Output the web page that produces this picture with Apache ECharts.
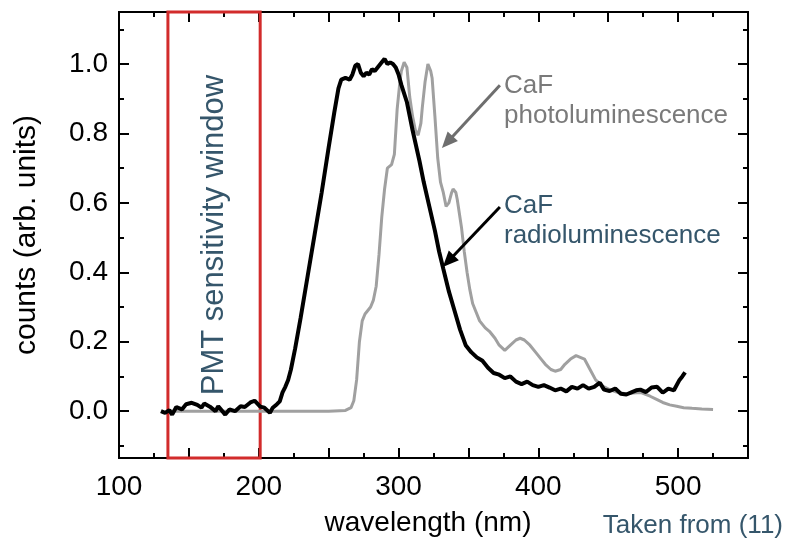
<!DOCTYPE html>
<html>
<head>
<meta charset="utf-8">
<script src="https://cdn.jsdelivr.net/npm/echarts@6/dist/echarts.min.js"></script>
<style>
  html, body { margin: 0; padding: 0; background: #ffffff; }
  #chart { width: 786px; height: 542px; }
</style>
</head>
<body>
<div id="chart"></div>
<script>
// CaF radioluminescence spectrum (black)
const radioWavelength = [130,133,136,138,141,145,148,152,156,159,161,165,169,171,176,179,183,187,190,194,197,201,204,208,210,213,215,217,219,221,223,226,230,235,240,245,250,254,257,259,262,265,267,269,271,273,275,277,279,281,283,285,287,290,292,294,296,298,300,302,306,310,315,318,322,326,329,332,336,340,344,348,352,356,360,364,368,372,376,380,384,388,392,396,400,404,408,412,416,420,424,428,432,436,440,444,447,451,455,459,463,467,470,473,477,481,485,489,493,497,501,503,505];
const radioCounts = [0.0,-0.005,0.003,-0.01,0.012,0.005,0.02,0.024,0.018,0.01,0.022,0.013,0.0,0.014,-0.01,0.005,0.0,0.014,0.012,0.025,0.03,0.013,0.01,-0.005,0.01,0.02,0.028,0.054,0.07,0.09,0.12,0.18,0.27,0.39,0.51,0.63,0.76,0.86,0.93,0.955,0.96,0.955,0.97,0.995,1.0,0.975,0.965,0.975,0.97,0.985,0.98,0.99,1.0,1.015,1.0,1.005,1.0,0.99,0.97,0.94,0.89,0.81,0.72,0.66,0.59,0.52,0.46,0.41,0.345,0.29,0.235,0.19,0.17,0.155,0.145,0.125,0.11,0.105,0.095,0.1,0.085,0.078,0.085,0.075,0.07,0.075,0.068,0.06,0.065,0.057,0.07,0.065,0.075,0.065,0.07,0.082,0.062,0.058,0.065,0.05,0.048,0.055,0.06,0.062,0.055,0.068,0.07,0.053,0.065,0.06,0.09,0.1,0.112];

// CaF photoluminescence spectrum (grey)
const photoWavelength = [135,200,250,262,266,268,270,272,274,276,278,280,282,284,286,288,290,292,295,297,299,301,302,304,306,308,310,312,314,316,317,319,321,323,324,326,328,330,332,334,336,338,339,341,342,345,347,349,351,353,355,358,362,365,369,372,376,380,384,387,390,394,398,402,405,409,412,416,419,423,427,430,433,437,441,446,451,456,462,468,473,480,485,489,494,499,504,510,517,525];
const photoCounts = [0.0,0.0,0.0,0.002,0.01,0.03,0.09,0.2,0.26,0.28,0.29,0.3,0.32,0.36,0.45,0.56,0.64,0.7,0.71,0.74,0.87,0.95,0.98,1.005,0.99,0.905,0.85,0.81,0.795,0.83,0.875,0.95,1.0,0.98,0.96,0.85,0.73,0.66,0.63,0.59,0.6,0.63,0.64,0.63,0.61,0.53,0.46,0.4,0.35,0.31,0.29,0.26,0.24,0.23,0.21,0.19,0.175,0.19,0.205,0.21,0.205,0.19,0.17,0.15,0.135,0.12,0.115,0.12,0.135,0.15,0.16,0.155,0.15,0.12,0.09,0.072,0.062,0.055,0.05,0.052,0.054,0.043,0.033,0.025,0.018,0.014,0.01,0.008,0.006,0.005];

// Axis ticks and labels
const xLabelValues = [100, 200, 300, 400, 500];
const yLabelValues = [0.0, 0.2, 0.4, 0.6, 0.8, 1.0];
const yMinorValues = [-0.1, 0.1, 0.3, 0.5, 0.7, 0.9, 1.1];

// PMT sensitivity window (nm)
const pmtWindow = [135, 201];

// Annotation arrows: [start, end] in (nm, counts)
const photoArrow = [[372.5, 0.939], [334.9, 0.775]];
const radioArrow = [[372.5, 0.588], [335.6, 0.432]];

const FONT = '"Liberation Sans", Arial, sans-serif';
const SLATE = '#35566b';
const X_MIN = 100, X_MAX = 550;
const Y_MIN = -0.135, Y_MAX = 1.15;

const zip = (xs, ys) => xs.map((x, i) => [x, ys[i]]);

const axisLineStyle = { show: true, onZero: false, lineStyle: { color: '#000', width: 2 } };
const tickStyle = { color: '#000', width: 2 };

function makeX(position, withLabels) {
  return {
    type: 'value', position, min: X_MIN, max: X_MAX, interval: 50,
    axisLine: axisLineStyle,
    splitLine: { show: false },
    axisTick: { show: true, inside: true, length: 10, lineStyle: tickStyle },
    minorTick: { show: true, splitNumber: 2, length: 5, lineStyle: tickStyle },
    axisLabel: withLabels ? {
      show: true, margin: 15, fontSize: 28, fontFamily: FONT, color: '#000',
      formatter: v => (xLabelValues.indexOf(v) >= 0 ? String(v) : '')
    } : { show: false },
    name: withLabels ? 'wavelength (nm)' : '',
    nameLocation: 'middle', nameGap: 51,
    nameTextStyle: { fontSize: 28, fontFamily: FONT, color: '#000', padding: [0, 11, 0, 0] }
  };
}

function makeY(position, ticks, tickLen, withLabels) {
  return {
    type: 'value', position, min: Y_MIN, max: Y_MAX,
    axisLine: axisLineStyle,
    splitLine: { show: false },
    axisTick: { show: true, inside: true, length: tickLen, lineStyle: tickStyle, customValues: ticks },
    axisLabel: withLabels ? {
      show: true, margin: 11, fontSize: 28, fontFamily: FONT, color: '#000',
      customValues: yLabelValues, formatter: v => v.toFixed(1)
    } : { show: false },
    name: withLabels ? 'counts (arb. units)' : '',
    nameLocation: 'middle', nameGap: 77, nameRotate: 90,
    nameTextStyle: { fontSize: 30, fontFamily: FONT, color: '#000' }
  };
}

const chart = echarts.init(document.getElementById('chart'), null, { renderer: 'canvas' });

chart.setOption({
  animation: false,
  backgroundColor: '#ffffff',
  grid: { left: 119, right: 38, top: 12, bottom: 84, containLabel: false },
  xAxis: [makeX('bottom', true), makeX('top', false)],
  yAxis: [
    makeY('left', yLabelValues, 10, true),
    makeY('left', yMinorValues, 5, false),
    makeY('right', yLabelValues, 10, false),
    makeY('right', yMinorValues, 5, false)
  ],
  series: [
    {
      name: 'CaF photoluminescence',
      type: 'line', xAxisIndex: 0, yAxisIndex: 0,
      data: zip(photoWavelength, photoCounts),
      showSymbol: false, smooth: false, z: 2,
      lineStyle: { color: '#a0a0a0', width: 3 },
      markArea: {
        silent: true,
        itemStyle: { color: 'rgba(0,0,0,0)', borderColor: '#d22b2b', borderWidth: 3 },
        label: {
          show: true, position: 'inside', rotate: 90,
          fontSize: 31, fontFamily: FONT, color: SLATE
        },
        data: [[
          { name: 'PMT sensitivity window', xAxis: pmtWindow[0], yAxis: Y_MIN },
          { xAxis: pmtWindow[1], yAxis: Y_MAX }
        ]]
      },
      markLine: {
        silent: true, animation: false,
        symbol: ['none', 'triangle'], symbolSize: [14, 16],
        lineStyle: { color: '#6e6e6e', width: 3, type: 'solid' },
        label: { show: false },
        data: [[{ coord: photoArrow[0] }, { coord: photoArrow[1] }]]
      }
    },
    {
      name: 'CaF radioluminescence',
      type: 'line', xAxisIndex: 0, yAxisIndex: 0,
      data: zip(radioWavelength, radioCounts),
      showSymbol: false, smooth: false, z: 3,
      lineStyle: { color: '#000000', width: 4 },
      markLine: {
        silent: true, animation: false,
        symbol: ['none', 'triangle'], symbolSize: [14, 16],
        lineStyle: { color: '#000000', width: 3, type: 'solid' },
        label: { show: false },
        data: [[{ coord: radioArrow[0] }, { coord: radioArrow[1] }]]
      }
    }
  ],
  graphic: [
    {
      type: 'text', left: 504, top: 71,
      style: { text: 'CaF\nphotoluminescence', fontSize: 26, fontFamily: FONT, fill: '#7a7a7a', lineHeight: 30 }
    },
    {
      type: 'text', left: 504, top: 191,
      style: { text: 'CaF\nradioluminescence', fontSize: 26, fontFamily: FONT, fill: SLATE, lineHeight: 30 }
    },
    {
      type: 'text', right: 3, top: 511,
      style: { text: 'Taken from (11)', fontSize: 26, fontFamily: FONT, fill: SLATE, lineHeight: 30 }
    }
  ]
});
</script>
</body>
</html>
